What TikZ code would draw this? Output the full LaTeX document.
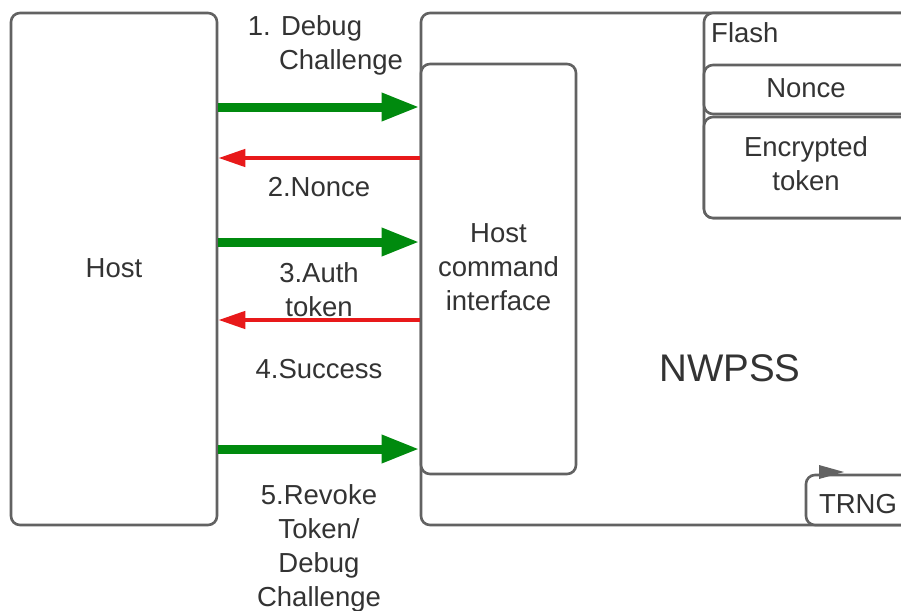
\documentclass[tikz,border=0pt]{standalone}
\usepackage{fontspec}
\setmainfont{Liberation Sans}
\usetikzlibrary{arrows.meta}
\definecolor{boxgray}{RGB}{98,98,98}
\definecolor{txtgray}{RGB}{51,51,51}
\definecolor{okgreen}{RGB}{0,138,14}
\definecolor{errred}{RGB}{232,25,26}
\newcommand{\lblfont}{\fontsize{27.5}{34}\selectfont}
\begin{document}
\begin{tikzpicture}[x=1pt,y=-1pt,
  box/.style={draw=boxgray, line width=2.6pt, rounded corners=9pt, fill=white,
              inner sep=0pt, text=txtgray, font=\lblfont, align=center},
  lbl/.style={text=txtgray, font=\lblfont, align=center, inner sep=0pt},
  req/.style={draw=okgreen, line width=9pt, -{Triangle[length=38pt,width=26pt]}},
  rsp/.style={draw=errred, line width=4.5pt, -{Triangle[length=27pt,width=17pt]}}]
\useasboundingbox (0,0) rectangle (901,610);
\fill[white] (0,0) rectangle (901,610);
\begin{scope}
\clip (0,0) rectangle (901,610);
% boxes
\node[box, minimum width=206pt, minimum height=512pt] (host) at (114,269) {};
\node[box, minimum width=579pt, minimum height=512pt] (nwpss) at (710.5,269) {};
\node[box, minimum width=155pt, minimum height=410pt] (hci) at (498.5,269) {};
\node[box, minimum width=296pt, minimum height=205pt] (flash) at (852,115.5) {};
\node[box, minimum width=296pt, minimum height=49pt] (nonce) at (852,89.5) {};
\node[box, minimum width=296pt, minimum height=101pt] (enc) at (852,167.5) {};
\node[box, minimum width=194pt, minimum height=50pt] (trng) at (903,500) {};
\fill[boxgray] (819,465) -- (844,472) -- (819,479) -- cycle;
\end{scope}
% box labels
\node[lbl] (hostlbl) at (114,268) {Host};
\node[lbl] (hcilbl) at (498.5,267) {Host\\command\\interface};
\node[lbl, font=\fontsize{38.5}{46}\selectfont] (nwpsslbl) at (730,368) {NWPSS};
\node[lbl, anchor=base west] (flashlbl) at (711,43) {Flash};
\node[lbl, anchor=base] (noncelbl) at (806,97) {Nonce};
\node[lbl] (enclbl) at (806,164) {Encrypted\\token};
\node[lbl, anchor=base] (trnglbl) at (858,513) {TRNG};
% messages
\draw[req] (host.east |- 0,107) -- (hci.west |- 0,107);
\draw[rsp] (hci.west |- 0,158) -- (host.east |- 0,158);
\draw[req] (host.east |- 0,242) -- (hci.west |- 0,242);
\draw[rsp] (hci.west |- 0,320) -- (host.east |- 0,320);
\draw[req] (host.east |- 0,449) -- (hci.west |- 0,449);
% message labels
\node[lbl, anchor=base] (m1a) at (305,36) {1. Debug};
\node[lbl, anchor=base] (m1b) at (341,70) {Challenge};
\node[lbl, anchor=base] (m2) at (319,196) {2.Nonce};
\node[lbl] (m3) at (319,290) {3.Auth\\token};
\node[lbl, anchor=base] (m4) at (319,378) {4.Success};
\node[lbl] (m5) at (319,548) {5.Revoke\\Token/\\Debug\\Challenge};
\end{tikzpicture}
\end{document}
